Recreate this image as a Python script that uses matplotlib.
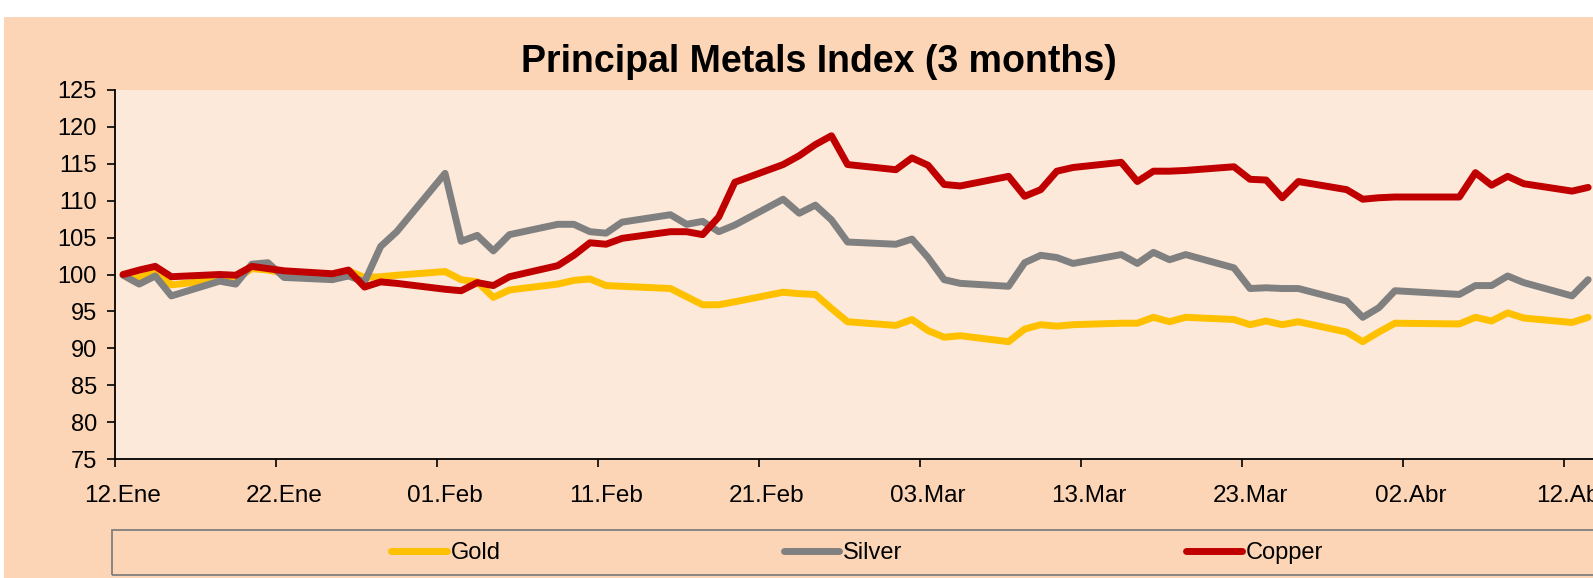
import numpy as np
import pandas as pd
import matplotlib
matplotlib.use("Agg")
import matplotlib.pyplot as plt
from matplotlib.patches import Rectangle

# business days 12 Jan - 13 Apr 2010, Good Friday not traded
dates = pd.bdate_range("2010-01-12", "2010-04-13").drop(pd.Timestamp("2010-04-02"))

gold = [100.0, 99.6, 100.3, 98.6, 99.3, 99.4, 100.8, 100.6, 100.2, 99.9, 100.5,
        99.6, 99.7, 99.9, 100.4, 99.3, 99.0, 96.9, 97.9, 98.7, 99.2, 99.4,
        98.5, 98.4, 98.1, 97.0, 95.9, 95.9, 96.3, 97.6, 97.4, 97.3, 95.4,
        93.6, 93.1, 93.9, 92.4, 91.5, 91.7, 90.9, 92.6, 93.2, 93.0, 93.2,
        93.4, 93.4, 94.2, 93.6, 94.2, 93.9, 93.2, 93.7, 93.2, 93.6,
        92.2, 90.9, 92.2, 93.4, 93.3, 94.2, 93.7, 94.8, 94.1, 93.5, 94.2]

silver = [99.9, 98.7, 99.8, 97.1, 99.1, 98.7, 101.4, 101.6, 99.6, 99.3, 99.8,
          99.0, 103.8, 105.8, 113.7, 104.5, 105.3, 103.2, 105.4, 106.8, 106.8, 105.8,
          105.6, 107.1, 108.1, 106.8, 107.2, 105.8, 106.7, 110.2, 108.3, 109.4, 107.4,
          104.4, 104.1, 104.8, 102.3, 99.3, 98.8, 98.4, 101.6, 102.6, 102.3, 101.5,
          102.7, 101.5, 103.0, 102.0, 102.7, 100.9, 98.1, 98.2, 98.1, 98.1,
          96.4, 94.2, 95.5, 97.8, 97.3, 98.5, 98.5, 99.8, 98.9, 97.1, 99.3]

copper = [100.0, 100.6, 101.1, 99.7, 100.0, 99.9, 101.1, 100.8, 100.5, 100.1, 100.6,
          98.3, 99.0, 98.8, 98.0, 97.8, 98.9, 98.5, 99.7, 101.2, 102.6, 104.3,
          104.1, 104.9, 105.8, 105.8, 105.4, 107.8, 112.5, 114.9, 116.1, 117.6, 118.8,
          114.9, 114.2, 115.8, 114.8, 112.2, 112.0, 113.3, 110.6, 111.5, 114.0, 114.5,
          115.2, 112.6, 114.0, 114.0, 114.1, 114.6, 112.9, 112.8, 110.4, 112.6,
          111.5, 110.2, 110.4, 110.5, 110.5, 113.8, 112.1, 113.3, 112.3, 111.3, 111.8]

names = ["Gold", "Silver", "Copper"]
colors = ["#FFC000", "#808080", "#C00000"]

tick_dates = pd.date_range("2010-01-12", "2010-04-12", freq="10D")
tick_labels = ["12.Ene", "22.Ene", "01.Feb", "11.Feb", "21.Feb",
               "03.Mar", "13.Mar", "23.Mar", "02.Abr", "12.Abr"]

plt.rcParams["font.family"] = ["Liberation Sans", "DejaVu Sans"]
W, H = 1593, 578
fig = plt.figure(figsize=(W / 100, H / 100), dpi=100, facecolor="white")

# outer chart area
fig.patches.append(Rectangle((4 / W, 0), 1, (H - 17) / H, transform=fig.transFigure,
                             fc="#FBD5B5", ec="none", zorder=-5))

ax = fig.add_axes([115 / W, (H - 459) / H, 1610 / W, 369 / H])
ax.set_facecolor("#FDE9D9")

x = dates + pd.Timedelta(hours=12)
lines = []
for vals, name, c in zip([gold, silver, copper], names, colors):
    ln, = ax.plot(x, vals, color=c, lw=5, label=name,
                  solid_joinstyle="round", solid_capstyle="round")
    lines.append(ln)

ax.set_xlim(pd.Timestamp("2010-01-12"), pd.Timestamp("2010-04-22"))
ax.set_ylim(75, 125)
ax.set_yticks(np.arange(75, 126, 5))

ax.set_xticks(tick_dates)
ax.set_xticklabels([])
ax.set_xticks(tick_dates + pd.Timedelta(hours=12), minor=True)
ax.set_xticklabels(tick_labels, minor=True)
ax.tick_params(axis="x", which="major", direction="out", length=6, width=1.2)
ax.tick_params(axis="x", which="minor", length=0, pad=19, labelsize=17.5)
ax.tick_params(axis="y", direction="out", length=6, width=1.2, pad=7, labelsize=17)

for s in ["top", "right"]:
    ax.spines[s].set_visible(False)
for s in ["left", "bottom"]:
    ax.spines[s].set_linewidth(1.3)
    ax.spines[s].set_color("black")

fig.text(819 / W, (H - 72) / H, "Principal Metals Index (3 months)",
         ha="center", va="baseline", fontsize=27, fontweight="bold")

# legend box
fig.patches.append(Rectangle((112 / W, 3 / H), (1610 - 112) / W, 45 / H,
                             transform=fig.transFigure, fc="none", ec="#7F7F7F", lw=1.3))
ax.legend(handles=lines, loc="center", bbox_to_anchor=(857 / W, 25 / H),
          bbox_transform=fig.transFigure, ncol=3, frameon=False, fontsize=17,
          handlelength=2.35, handletextpad=0.17, columnspacing=12.0,
          borderpad=0, borderaxespad=0)

fig.savefig("out.png", dpi=100, facecolor=fig.get_facecolor())
